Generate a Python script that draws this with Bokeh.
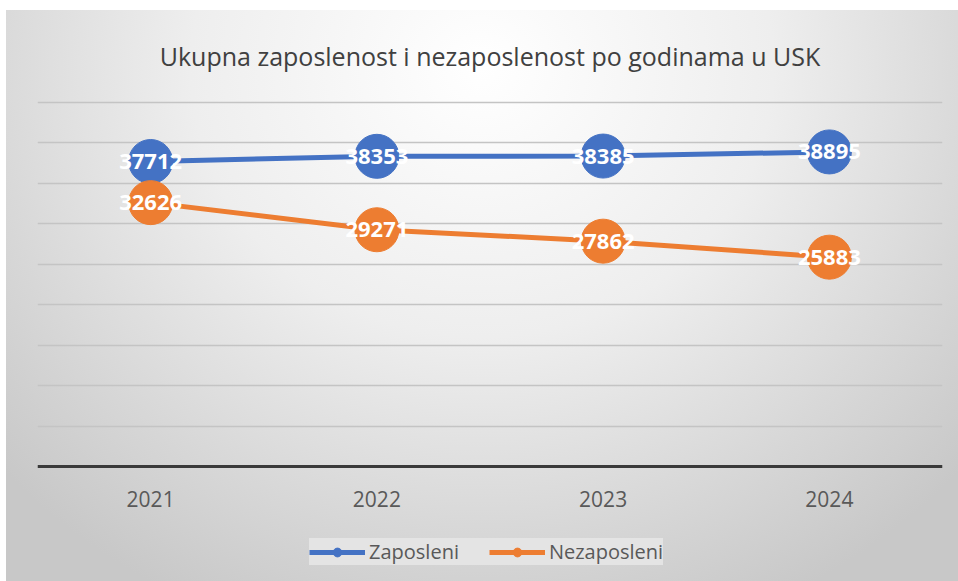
from bokeh.plotting import figure
from bokeh.models import Range1d, Legend, LegendItem, ColumnDataSource
from bokeh.core.properties import value
from bokeh.embed import file_html
from bokeh.resources import INLINE

years = ["2021", "2022", "2023", "2024"]
zaposleni = [37712, 38353, 38385, 38895]
nezaposleni = [32626, 29271, 27862, 25883]
series_names = ["Zaposleni", "Nezaposleni"]
colors = ["#4472C4", "#ED7D31"]
grid_ticks = list(range(0, 45001, 5000))

p = figure(x_range=years, y_range=Range1d(-13846, 45500), width=958, height=581,
           output_backend="svg", toolbar_location=None,
           min_border_left=37, min_border_right=16, min_border_top=98, min_border_bottom=3)
p.styles = {
    "background-color": "#ffffff",
    "background-image": "radial-gradient(ellipse 68% 105% at 50% 10%, #ffffff 0%, #eeeeee 45%, #d7d7d7 78%, #c8c8c8 100%)",
    "background-position": "6px 10px",
    "background-size": "952px 571px",
    "background-repeat": "no-repeat",
}
p.border_fill_color = None
p.background_fill_color = None
p.outline_line_color = None

p.title.text = "Ukupna zaposlenost i nezaposlenost po godinama u USK"
p.title.align = "center"
p.title.text_font = "Open Sans"
p.title.text_font_size = "25px"
p.title.text_font_style = "normal"
p.title.text_color = "#404040"
p.title.standoff = 52

p.yaxis.visible = False
p.xgrid.grid_line_color = None
p.ygrid.ticker = grid_ticks
p.ygrid.grid_line_color = "#c4c4c4"
p.ygrid.grid_line_width = 1.6

ax = p.xaxis[0]
ax.fixed_location = 0
ax.axis_line_color = "#3a3a3a"
ax.axis_line_width = 3
ax.major_tick_line_color = None
ax.minor_tick_line_color = None
ax.major_label_text_font = "Open Sans"
ax.major_label_text_font_size = "21px"
ax.major_label_text_color = "#595959"
ax.major_label_standoff = 18

items = []
for vals, name, col in zip([zaposleni, nezaposleni], series_names, colors):
    src = ColumnDataSource(dict(x=years, y=vals, t=[str(v) for v in vals]))
    l = p.line("x", "y", source=src, line_color=col, line_width=5)
    s = p.scatter("x", "y", source=src, size=44, fill_color=col, line_color=col)
    p.text("x", "y", text="t", source=src, text_align="center", text_baseline="middle",
           text_color="white", text_font=value("Open Sans"), text_font_style="bold",
           text_font_size="22px")
    items.append(LegendItem(label=name, renderers=[l, s]))

legend = Legend(items=items, orientation="horizontal", location=(272, 13),
                label_text_font="Open Sans", label_text_font_size="20px",
                label_text_color="#595959", glyph_width=56, glyph_height=22,
                label_standoff=4, spacing=30, padding=13, margin=0,
                background_fill_color="#e6e6e6", background_fill_alpha=0.9,
                border_line_color=None)
p.add_layout(legend, "center")

open("out.html", "w").write(file_html(p, INLINE))
